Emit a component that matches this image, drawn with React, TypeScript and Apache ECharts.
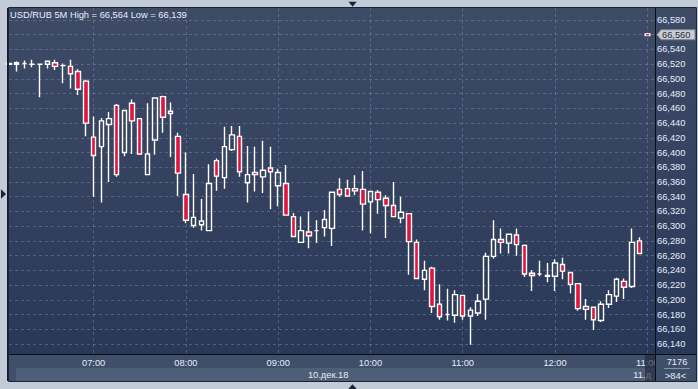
import React, { useEffect, useRef } from 'react';
import * as echarts from 'echarts';

const W = 698;
const H = 389;

const times = [
  '06:05', '06:10', '06:15', '06:20', '06:25', '06:30', '06:35', '06:40', '06:45', '06:50', '06:55',
  '07:00', '07:05', '07:10', '07:15', '07:20', '07:25', '07:30', '07:35', '07:40', '07:45', '07:50', '07:55',
  '08:00', '08:05', '08:10', '08:15', '08:20', '08:25', '08:30', '08:35', '08:40', '08:45', '08:50', '08:55',
  '09:00', '09:05', '09:10', '09:15', '09:20', '09:25', '09:30', '09:35', '09:40', '09:45', '09:50', '09:55',
  '10:00', '10:05', '10:10', '10:15', '10:20', '10:25', '10:30', '10:35', '10:40', '10:45', '10:50', '10:55',
  '11:00', '11:05', '11:10', '11:15', '11:20', '11:25', '11:30', '11:35', '11:40', '11:45', '11:50', '11:55',
  '12:00', '12:05', '12:10', '12:15', '12:20', '12:25', '12:30', '12:35', '12:40', '12:45', '12:50', '12:55',
  '11:00', '11:05',
];

const opens = [
  66.520, 66.520, 66.521, 66.520, 66.520, 66.520, 66.522, 66.518, 66.517, 66.510,
  66.497, 66.421, 66.408, 66.438, 66.464, 66.400, 66.467, 66.446, 66.370, 66.417,
  66.476, 66.453, 66.422, 66.343, 66.301, 66.302, 66.294, 66.389, 66.366, 66.404,
  66.422, 66.359, 66.373, 66.367, 66.379, 66.355, 66.358, 66.313, 66.278, 66.292,
  66.294, 66.298, 66.297, 66.350, 66.351, 66.351, 66.350, 66.333, 66.346, 66.338,
  66.328, 66.311, 66.317, 66.278, 66.228, 66.243, 66.194, 66.180, 66.179, 66.206,
  66.178, 66.182, 66.201, 66.259, 66.282, 66.277, 66.288, 66.274, 66.236, 66.235,
  66.232, 66.232, 66.248, 66.237, 66.222, 66.187, 66.190, 66.172, 66.194, 66.205,
  66.225, 66.218, 66.280,
];
const closes = [
  66.521, 66.522, 66.521, 66.520, 66.520, 66.524, 66.517, 66.518, 66.507, 66.486,
  66.440, 66.396, 66.443, 66.446, 66.370, 66.457, 66.443, 66.398, 66.398, 66.474,
  66.448, 66.456, 66.372, 66.308, 66.312, 66.307, 66.358, 66.368, 66.408, 66.424,
  66.374, 66.370, 66.370, 66.376, 66.374, 66.373, 66.315, 66.286, 66.294, 66.287,
  66.294, 66.309, 66.346, 66.343, 66.341, 66.348, 66.330, 66.347, 66.336, 66.328,
  66.313, 66.319, 66.279, 66.229, 66.240, 66.191, 66.177, 66.180, 66.207, 66.178,
  66.186, 66.198, 66.259, 66.282, 66.278, 66.289, 66.275, 66.235, 66.233, 66.235,
  66.233, 66.250, 66.239, 66.221, 66.188, 66.191, 66.173, 66.194, 66.207, 66.228,
  66.217, 66.278, 66.263,
];
const lows = [
  66.519, 66.510, 66.514, 66.516, 66.475, 66.514, 66.512, 66.494, 66.487, 66.478,
  66.422, 66.340, 66.332, 66.360, 66.367, 66.395, 66.398, 66.397, 66.369, 66.397,
  66.427, 66.394, 66.341, 66.304, 66.298, 66.294, 66.293, 66.348, 66.351, 66.402,
  66.367, 66.332, 66.347, 66.345, 66.323, 66.327, 66.314, 66.285, 66.277, 66.270,
  66.277, 66.286, 66.273, 66.340, 66.340, 66.342, 66.294, 66.290, 66.317, 66.284,
  66.312, 66.304, 66.234, 66.228, 66.213, 66.182, 66.173, 66.172, 66.169, 66.173,
  66.139, 66.178, 66.173, 66.256, 66.263, 66.263, 66.260, 66.231, 66.212, 66.232,
  66.224, 66.212, 66.228, 66.209, 66.185, 66.173, 66.159, 66.170, 66.189, 66.197,
  66.201, 66.216, 66.262,
];
const highs = [
  66.522, 66.524, 66.525, 66.526, 66.521, 66.525, 66.526, 66.521, 66.526, 66.513,
  66.499, 66.449, 66.447, 66.455, 66.466, 66.458, 66.472, 66.447, 66.467, 66.475,
  66.477, 66.468, 66.427, 66.400, 66.371, 66.337, 66.384, 66.392, 66.435, 66.436,
  66.436, 66.409, 66.408, 66.416, 66.408, 66.378, 66.383, 66.318, 66.313, 66.320,
  66.308, 66.322, 66.347, 66.365, 66.363, 66.369, 66.375, 66.348, 66.349, 66.342,
  66.360, 66.340, 66.318, 66.282, 66.253, 66.245, 66.221, 66.215, 66.213, 66.207,
  66.190, 66.208, 66.264, 66.308, 66.297, 66.290, 66.297, 66.275, 66.240, 66.253,
  66.250, 66.255, 66.257, 66.238, 66.223, 66.201, 66.191, 66.198, 66.213, 66.230,
  66.229, 66.297, 66.285,
];

const titleText = 'USD/RUB 5M High = 66,564 Low = 66,139';
const dayLabels = ['10.дек.18', '11.дек.18'];
const dayStart = [0, 83];
const priceTag = 66.56;
const barCount = '7176';
const visibleCount = '>84<';

const Y_MIN = 66.12;
const Y_MAX = 66.6;
const Y_STEP = 0.02;

const FONT = '"Liberation Sans", Arial, sans-serif';
const TXT = '#e4ecf8';
const fmt = (v: number) => v.toFixed(3).replace('.', ',');

export default function App() {
  const ref = useRef<HTMLDivElement>(null);

  useEffect(() => {
    const chart = echarts.init(ref.current!, null, { renderer: 'svg' });

    const PL = 9, PR = 655, PT = 8, PB = 354;
    const pxPerUnit = (344 - 20) / (66.58 - 66.14);
    const gTop = 20 - (Y_MAX - 66.58) * pxPerUnit;
    const gBot = 344 + (66.14 - Y_MIN) * pxPerUnit;

    const candles = opens.map((o, i) => [o, closes[i], lows[i], highs[i]]);
    const isHour = (_i: number, v: string) => v.endsWith(':00');

    chart.setOption({
      animation: false,
      grid: [
        { left: PL, right: W - PR, top: gTop, bottom: H - gBot },
        { left: PL, right: W - PR, top: PT, bottom: H - PB },
      ],
      xAxis: [
        { type: 'category', gridIndex: 0, data: times, boundaryGap: false, show: false },
        {
          type: 'category', gridIndex: 1, data: times, boundaryGap: false,
          axisLine: { show: false }, axisTick: { show: false },
          axisLabel: { interval: isHour, color: TXT, fontSize: 9.3, fontFamily: FONT, margin: 4 },
          splitLine: { show: true, interval: isHour, lineStyle: { color: 'rgba(140,158,188,0.38)', type: [3, 3], width: 1 } },
        },
      ],
      yAxis: [
        {
          type: 'value', gridIndex: 0, position: 'right', min: Y_MIN, max: Y_MAX, interval: Y_STEP,
          axisLine: { show: false }, axisTick: { show: false },
          axisLabel: {
            formatter: (v: number) => (Math.abs(v - priceTag) < 1e-6 ? '' : fmt(v)),
            color: TXT, fontSize: 9.3, fontFamily: FONT, margin: 2, showMinLabel: false, showMaxLabel: false,
          },
          splitLine: { show: true, showMinLine: false, showMaxLine: false, lineStyle: { color: 'rgba(140,158,188,0.38)', type: [3, 3], width: 1 } },
        },
        { type: 'value', gridIndex: 1, show: false, min: 0, max: 1 },
      ],
      series: [
        {
          type: 'candlestick', xAxisIndex: 0, yAxisIndex: 0, data: candles, barWidth: 5, silent: true, clip: true,
          itemStyle: { color: 'rgba(0,0,0,0)', color0: '#e0143c', borderColor: '#ffffff', borderColor0: '#ffffff', borderWidth: 1.4 },
        },
      ],
    });

    const yTag = chart.convertToPixel({ yAxisIndex: 0 }, priceTag) as number;
    const xd0 = Math.max(PL, chart.convertToPixel({ xAxisIndex: 1 }, dayStart[0]) as number);
    const xd1 = chart.convertToPixel({ xAxisIndex: 1 }, dayStart[1]) as number;
    const day1Start = (xd1 + PR) / 2 - 18;

    const bgGrad = new echarts.graphic.LinearGradient(0, 0, 0, 1, [
      { offset: 0, color: '#3e4b67' },
      { offset: 1, color: '#2a3858' },
    ]);

    chart.setOption({
      graphic: [
        { type: 'rect', z: -20, shape: { x: 8, y: 8, width: 688, height: 346 }, style: { fill: bgGrad } },
        { type: 'rect', z: -19, shape: { x: 8, y: 354, width: 688, height: 27 }, style: { fill: '#3f4f69' } },
        { type: 'rect', z: -18, shape: { x: 16, y: 368, width: 639, height: 13 }, style: { fill: '#4e5e79' } },
        { type: 'text', z: -17, x: (xd0 + xd1) / 2, y: 374.5, style: { text: dayLabels[0], fill: TXT, font: `9.3px ${FONT}`, textAlign: 'center', textVerticalAlign: 'middle' } },
        {
          type: 'text', z: -17, x: day1Start, y: 374.5,
          style: { text: dayLabels[1], fill: TXT, font: `9.3px ${FONT}`, textVerticalAlign: 'middle', width: PR - day1Start - 1, overflow: 'truncate', ellipsis: '' },
        },
        { type: 'text', z: 4, x: 10, y: 15, style: { text: titleText, fill: '#e8eef8', font: `9.3px ${FONT}`, textVerticalAlign: 'middle' } },
        { type: 'rect', z: 5, shape: { x: 645, y: 355, width: 10, height: 26 }, style: { fill: 'rgba(30,40,60,0.65)' } },
        { type: 'rect', z: 5, shape: { x: 655, y: 355, width: 41, height: 26 }, style: { fill: '#3f4f69' } },
        { type: 'line', z: 6, shape: { x1: 655.5, y1: 8, x2: 655.5, y2: 381 }, style: { stroke: '#0a0d14', lineWidth: 1 } },
        { type: 'line', z: 6, shape: { x1: 8, y1: 354.5, x2: 696, y2: 354.5 }, style: { stroke: '#0a0d14', lineWidth: 1 } },
        { type: 'line', z: 6, shape: { x1: 8, y1: 8, x2: 8, y2: 381 }, style: { stroke: '#151b28', lineWidth: 2 } },
        { type: 'rect', z: 6, shape: { x: 8.5, y: 7.5, width: 688, height: 374 }, style: { fill: 'none', stroke: '#1c2333', lineWidth: 1 } },
        { type: 'text', z: 7, x: 677, y: 362, style: { text: barCount, fill: TXT, font: `9.3px ${FONT}`, textAlign: 'center', textVerticalAlign: 'middle' } },
        { type: 'line', z: 7, shape: { x1: 664, y1: 368.5, x2: 690, y2: 368.5 }, style: { stroke: '#8593aa', lineWidth: 1 } },
        { type: 'text', z: 7, x: 675.5, y: 375.5, style: { text: visibleCount, fill: TXT, font: `9.3px ${FONT}`, textAlign: 'center', textVerticalAlign: 'middle' } },
        {
          type: 'polygon', z: 8,
          shape: { points: [[657, yTag], [661, yTag - 5], [695, yTag - 5], [695, yTag + 5], [661, yTag + 5]] },
          style: { fill: '#c9ccd2', stroke: '#7c8595', lineWidth: 1 },
        },
        { type: 'text', z: 9, x: 662, y: yTag + 0.5, style: { text: fmt(priceTag), fill: '#2a2f3a', font: `9.3px ${FONT}`, textVerticalAlign: 'middle' } },
        { type: 'rect', z: 8, shape: { x: 644.5, y: yTag - 1.5, width: 6, height: 3 }, style: { fill: '#ffffff' } },
        { type: 'rect', z: 9, shape: { x: 646, y: yTag - 0.6, width: 3, height: 1.4 }, style: { fill: '#e0143c' } },
        { type: 'polygon', z: 8, shape: { points: [[348.5, 1.8], [356.7, 1.8], [352.6, 6.7]] }, style: { fill: '#1b2436' } },
        { type: 'polygon', z: 8, shape: { points: [[1, 189.3], [1, 198.7], [6, 194]] }, style: { fill: '#1b2436' } },
        { type: 'polygon', z: 8, shape: { points: [[352.5, 384.3], [348.3, 389], [356.7, 389]] }, style: { fill: '#1b2436' } },
      ],
    });

    return () => chart.dispose();
  }, []);

  return (
    <div style={{ position: 'fixed', left: 0, top: 0, width: W, height: H, background: '#c2ccd8' }}>
      <div ref={ref} style={{ width: W, height: H }} />
    </div>
  );
}
